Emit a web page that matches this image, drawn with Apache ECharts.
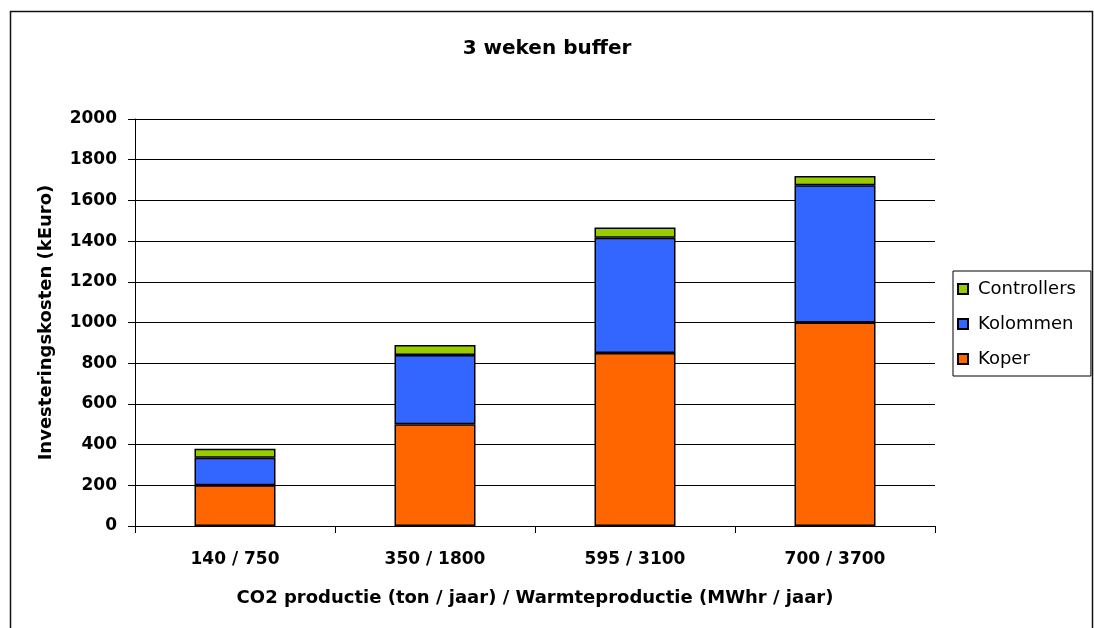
<!DOCTYPE html>
<html>
<head>
<meta charset="utf-8">
<script src="https://cdn.jsdelivr.net/npm/echarts@6/dist/echarts.min.js"></script>
<style>
html,body{margin:0;padding:0;background:#fff;}
#chart{width:1094px;height:628px;}
</style>
</head>
<body>
<div id="chart"></div>
<script>
const categories = ['140 / 750', '350 / 1800', '595 / 3100', '700 / 3700'];
const koper = [200, 500, 850, 1000];
const kolommen = [135, 340, 567, 675];
const controllers = [45, 50, 50, 45];
const yTicks = [0, 200, 400, 600, 800, 1000, 1200, 1400, 1600, 1800, 2000];

const FONT = 'DejaVu Sans';
const chart = echarts.init(document.getElementById('chart'), null, {renderer: 'canvas'});

function barSeries(name, data, color) {
  return {
    name: name,
    type: 'bar',
    stack: 'total',
    data: data,
    barWidth: '40.5%',
    itemStyle: {color: color, borderColor: '#000', borderWidth: 1.5},
    emphasis: {disabled: true}
  };
}

chart.setOption({
  animation: false,
  backgroundColor: '#fff',
  textStyle: {fontFamily: FONT},
  title: {
    text: '3 weken buffer',
    left: 'center',
    top: 34,
    padding: [5, 5, 5, 15],
    textStyle: {fontFamily: FONT, fontSize: 20, fontWeight: 'bold', color: '#000'}
  },
  graphic: [{
    type: 'rect',
    shape: {x: 10.5, y: 11.5, width: 1082, height: 640},
    style: {fill: 'none', stroke: '#111', lineWidth: 1.5},
    silent: true,
    z: 100
  }],
  legend: {
    orient: 'vertical',
    left: 953,
    top: 271,
    data: ['Controllers', 'Kolommen', 'Koper'],
    icon: 'path://M0,0 L10,0 L10,10 L0,10 Z',
    itemWidth: 20,
    itemHeight: 10,
    itemGap: 15,
    padding: [8, 15, 7, 4],
    borderColor: '#000',
    borderWidth: 1,
    selectedMode: false,
    textStyle: {fontFamily: FONT, fontSize: 18, color: '#000', lineHeight: 20}
  },
  grid: {left: 135, right: 159, top: 119, bottom: 102, containLabel: false},
  xAxis: {
    type: 'category',
    data: categories,
    name: 'CO2 productie (ton / jaar) / Warmteproductie (MWhr / jaar)',
    nameLocation: 'middle',
    nameGap: 63,
    nameTextStyle: {fontFamily: FONT, fontSize: 18, fontWeight: 'bold', color: '#000'},
    axisLine: {show: true, lineStyle: {color: '#000', width: 1}},
    axisTick: {show: true, length: 7, inside: false, lineStyle: {color: '#000'}},
    axisLabel: {margin: 25, fontFamily: FONT, fontSize: 17, fontWeight: 'bold', color: '#000'},
    splitLine: {show: false}
  },
  yAxis: {
    type: 'value',
    min: 0,
    max: 2000,
    interval: 200,
    name: 'Investeringskosten (kEuro)',
    nameLocation: 'middle',
    nameGap: 80,
    nameTextStyle: {fontFamily: FONT, fontSize: 18, fontWeight: 'bold', color: '#000'},
    axisLine: {show: true, lineStyle: {color: '#000', width: 1}},
    axisTick: {show: true, length: 7, inside: false, lineStyle: {color: '#000'}},
    axisLabel: {
      margin: 18, fontFamily: FONT, fontSize: 17, fontWeight: 'bold', color: '#000',
      padding: [4, 0, 0, 0],
      formatter: function (v) { return yTicks.indexOf(v) >= 0 ? String(v) : ''; }
    },
    splitLine: {show: true, lineStyle: {color: '#000', width: 1}}
  },
  series: [
    barSeries('Koper', koper, '#FF6600'),
    barSeries('Kolommen', kolommen, '#3366FF'),
    barSeries('Controllers', controllers, '#99CC00')
  ]
});
</script>
</body>
</html>
